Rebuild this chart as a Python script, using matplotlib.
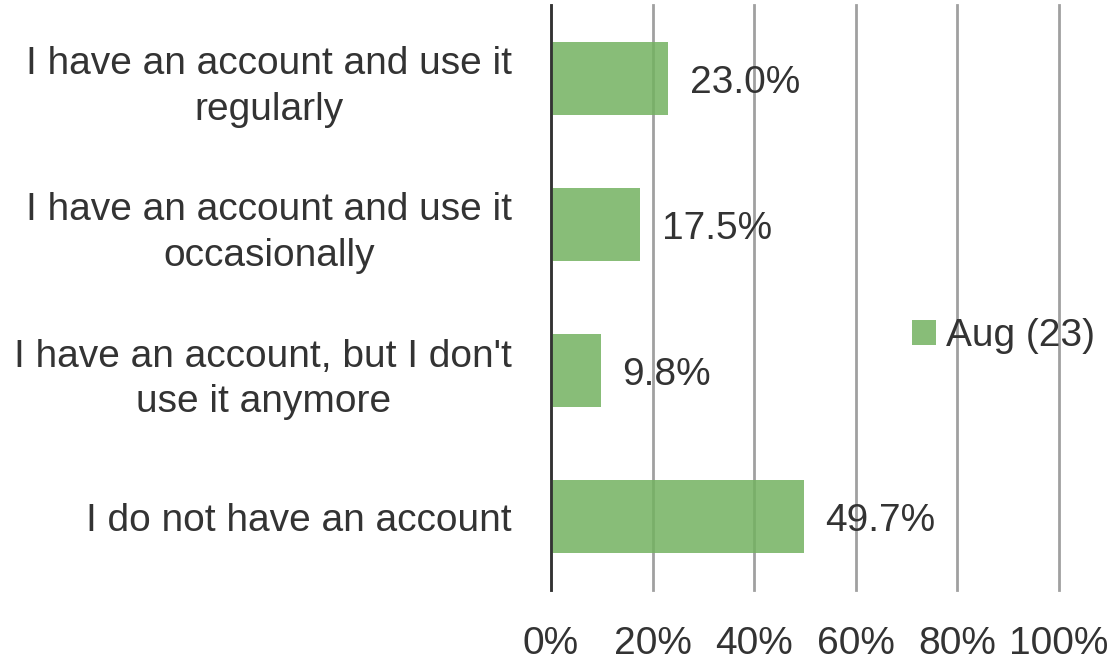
import numpy as np
import matplotlib.pyplot as plt

categories = ["I have an account and use it\nregularly",
              "I have an account and use it\noccasionally",
              "I have an account, but I don't\nuse it anymore",
              "I do not have an account"]
values = [23.0, 17.5, 9.8, 49.7]
series_name = "Aug (23)"
xticks = [0, 20, 40, 60, 80, 100]

plt.rcParams['font.family'] = ['Liberation Sans', 'DejaVu Sans']
txt = '#333333'
fs = 28

fig = plt.figure(figsize=(11.16, 6.62), dpi=100)
ax = fig.add_axes([0.4937, 0.1088, 0.949 - 0.4937, 0.8836])

y = np.arange(len(categories))
bars = ax.barh(y, values, height=0.5, color='#73B260', alpha=0.85, zorder=3, label=series_name)

for yi, v in zip(y, values):
    ax.text(v + 4.3, yi + 0.03, f"{v:.1f}%", va='center', ha='left', fontsize=fs, color=txt, zorder=4)

ax.set_xlim(0, 100)
ax.set_ylim(3.5, -0.5)
ax.set_yticks(y)
ax.set_yticklabels(categories, fontsize=fs, color=txt, linespacing=1.35, multialignment='center')
ax.set_xticks(xticks)
ax.set_xticklabels([f"{t}%" for t in xticks], fontsize=fs, color=txt)
ax.tick_params(axis='both', length=0)
ax.tick_params(axis='y', pad=28)
ax.tick_params(axis='x', pad=26)

ax.grid(axis='x', color='#A0A0A0', linewidth=2, zorder=1)
for gl in ax.get_xgridlines():
    gl.set_clip_on(False)
ax.set_axisbelow(True)
for s in ['top', 'right', 'bottom']:
    ax.spines[s].set_visible(False)
ax.spines['left'].set_color('#333333')
ax.spines['left'].set_linewidth(2)
ax.spines['left'].set_zorder(5)

leg = fig.legend(handles=[bars], labels=[series_name], loc='center left',
                 bbox_to_anchor=(0.786, 0.492), frameon=False, fontsize=fs,
                 handlelength=0.62, handleheight=0.62, handletextpad=0.26, labelcolor=txt)

fig.savefig('out.png', dpi=100)
